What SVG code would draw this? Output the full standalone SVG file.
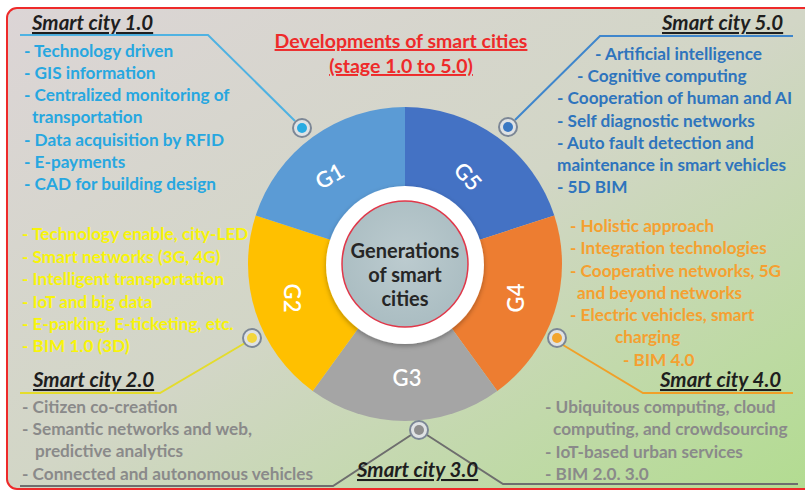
<svg xmlns="http://www.w3.org/2000/svg" width="805" height="491" viewBox="0 0 805 491">
<defs>
<linearGradient id="bg" x1="0" y1="0" x2="1" y2="1">
<stop offset="0" stop-color="#dcd5d6"/>
<stop offset="0.5" stop-color="#d2d6c6"/>
<stop offset="1" stop-color="#b2dc90"/>
</linearGradient>
<radialGradient id="hub" cx="0.5" cy="0.45" r="0.6">
<stop offset="0" stop-color="#bccbcf"/>
<stop offset="1" stop-color="#a9bcc1"/>
</radialGradient>
<filter id="sh" x="-20%" y="-20%" width="140%" height="140%">
<feDropShadow dx="0" dy="2" stdDeviation="2.5" flood-color="#000" flood-opacity="0.3"/>
</filter>
</defs>
<style>
.t{font-family:Lato,"Open Sans","Liberation Sans",sans-serif;font-weight:bold;font-size:17.2px}
.h{font-family:Lato,"Open Sans","Liberation Sans",sans-serif;font-weight:bold;font-style:italic;font-size:20.5px;fill:#1e1e1e;text-decoration:underline}
.g{font-family:Lato,"Open Sans","Liberation Sans",sans-serif;font-weight:600;font-size:22px;fill:#ffffff;text-anchor:middle}
.c1{fill:#27a7e0}.c5{fill:#2e74bd}.c2{fill:#f8f40a}.c4{fill:#f5a030}.cg{fill:#8a8a8a}
.ln{fill:none;stroke-width:2}
.ring{fill:#dfe2e4;stroke:#7c8796;stroke-width:2}
</style>
<rect x="0" y="0" width="805" height="491" fill="#ffffff"/>
<rect x="7" y="8" width="810" height="481" rx="10" fill="url(#bg)" stroke="#ee2a2a" stroke-width="2"/>

<g id="title">
<text class="t" x="401" y="48" text-anchor="middle" style="font-size:19.5px;fill:#ee2a2a;text-decoration:underline">Developments of smart cities</text>
<text class="t" x="401" y="73" text-anchor="middle" style="font-size:19.5px;fill:#ee2a2a;text-decoration:underline">(stage 1.0 to 5.0)</text>
</g>

<g id="connectors">
<polyline class="ln" points="20,35 208,35 295,121" stroke="#4fb2e2"/>
<polyline class="ln" points="793,36 600,36 515,120" stroke="#3f86cc"/>
<polyline class="ln" points="20,393 160,393 245,343" stroke="#e4dc2c"/>
<polyline class="ln" points="20,486 333,486 411,435" stroke="#6e6e6e"/>
<polyline class="ln" points="427,435 503,484 798,484" stroke="#6e6e6e"/>
<polyline class="ln" points="563,345 643,393 793,393" stroke="#f0a028"/>
</g>

<g id="donut">
<g id="G5"><path d="M405,264 L405,107 A157,157 0 0 1 554.32,215.48 Z" fill="#4472c4"/><text class="g" transform="translate(467,177) rotate(48)" y="7">G5</text></g>
<g id="G4"><path d="M405,264 L554.32,215.48 A157,157 0 0 1 497.28,391.02 Z" fill="#ed7d31"/><text class="g" transform="translate(517,298) rotate(-90)" y="7">G4</text></g>
<g id="G3"><path d="M405,264 L497.28,391.02 A157,157 0 0 1 312.72,391.02 Z" fill="#a5a5a5"/><text class="g" x="407" y="386">G3</text></g>
<g id="G2"><path d="M405,264 L312.72,391.02 A157,157 0 0 1 255.68,215.48 Z" fill="#ffc000"/><text class="g" transform="translate(291,298) rotate(90)" y="7">G2</text></g>
<g id="G1"><path d="M405,264 L255.68,215.48 A157,157 0 0 1 405,107 Z" fill="#5b9bd5"/><text class="g" transform="translate(330,177) rotate(-30)" y="7">G1</text></g>
<g id="hubnode">
<circle cx="405" cy="265" r="79" fill="#ffffff" filter="url(#sh)"/>
<circle cx="405" cy="264" r="63" fill="url(#hub)" stroke="#e0384a" stroke-width="1.5"/>
<text class="t" x="405" y="258" text-anchor="middle" style="font-size:20px;fill:#262626">Generations</text>
<text class="t" x="405" y="282" text-anchor="middle" style="font-size:20px;fill:#262626">of smart</text>
<text class="t" x="405" y="306" text-anchor="middle" style="font-size:20px;fill:#262626">cities</text>
</g>
</g>

<g id="markers">
<g id="m1"><circle class="ring" cx="302" cy="128" r="9"/><circle cx="302" cy="128" r="5" fill="#29abe2"/></g>
<g id="m5"><circle class="ring" cx="508" cy="127" r="9"/><circle cx="508" cy="127" r="5" fill="#3a78c3"/></g>
<g id="m2"><circle class="ring" cx="252" cy="338" r="9"/><circle cx="252" cy="338" r="5" fill="#f3d63c"/></g>
<g id="m4"><circle class="ring" cx="557" cy="338" r="9"/><circle cx="557" cy="338" r="5" fill="#f2a52e"/></g>
<g id="m3"><circle class="ring" cx="419" cy="430" r="9"/><circle cx="419" cy="430" r="5" fill="#8e8e8e"/></g>
</g>

<g id="sc1">
<text class="h" x="32" y="30">Smart city 1.0</text>
<text class="t c1" x="24" y="57">- Technology driven</text>
<text class="t c1" x="24" y="79">- GIS information</text>
<text class="t c1" x="24" y="101">- Centralized monitoring of</text>
<text class="t c1" x="32" y="123">transportation</text>
<text class="t c1" x="24" y="146">- Data acquisition by RFID</text>
<text class="t c1" x="24" y="168">- E-payments</text>
<text class="t c1" x="24" y="190">- CAD for building design</text>
</g>

<g id="sc5">
<text class="h" x="662" y="30">Smart city 5.0</text>
<text class="t c5" x="595" y="60">- Artificial intelligence</text>
<text class="t c5" x="577" y="82">- Cognitive computing</text>
<text class="t c5" x="557" y="104">- Cooperation of human and AI</text>
<text class="t c5" x="557" y="127">- Self diagnostic networks</text>
<text class="t c5" x="557" y="149">- Auto fault detection and</text>
<text class="t c5" x="557" y="171">maintenance in smart vehicles</text>
<text class="t c5" x="557" y="193">- 5D BIM</text>
</g>

<g id="sc2items">
<text class="t c2" x="22" y="240">- Technology enable, city-LED</text>
<text class="t c2" x="22" y="263">- Smart networks (3G, 4G)</text>
<text class="t c2" x="22" y="285">- Intelligent transportation</text>
<text class="t c2" x="22" y="308">- IoT and big data</text>
<text class="t c2" x="22" y="330">- E-parking, E-ticketing, etc.</text>
<text class="t c2" x="22" y="352">- BIM 1.0 (3D)</text>
</g>

<g id="sc4items">
<text class="t c4" x="570" y="232">- Holistic approach</text>
<text class="t c4" x="570" y="254">- Integration technologies</text>
<text class="t c4" x="570" y="277">- Cooperative networks, 5G</text>
<text class="t c4" x="577" y="299">and beyond networks</text>
<text class="t c4" x="570" y="321">- Electric vehicles, smart</text>
<text class="t c4" x="615" y="343">charging</text>
<text class="t c4" x="623" y="366">- BIM 4.0</text>
</g>

<g id="sc2">
<text class="h" x="33" y="387">Smart city 2.0</text>
<text class="t cg" x="22" y="413">- Citizen co-creation</text>
<text class="t cg" x="22" y="435">- Semantic networks and web,</text>
<text class="t cg" x="35" y="457">predictive analytics</text>
<text class="t cg" x="22" y="480">- Connected and autonomous vehicles</text>
</g>

<g id="sc3">
<text class="h" x="357" y="477">Smart city 3.0</text>
</g>

<g id="sc4">
<text class="h" x="660" y="387">Smart city 4.0</text>
<text class="t cg" x="545" y="413">- Ubiquitous computing, cloud</text>
<text class="t cg" x="553" y="435">computing, and crowdsourcing</text>
<text class="t cg" x="545" y="458">- IoT-based urban services</text>
<text class="t cg" x="545" y="480">- BIM 2.0. 3.0</text>
</g>
</svg>
